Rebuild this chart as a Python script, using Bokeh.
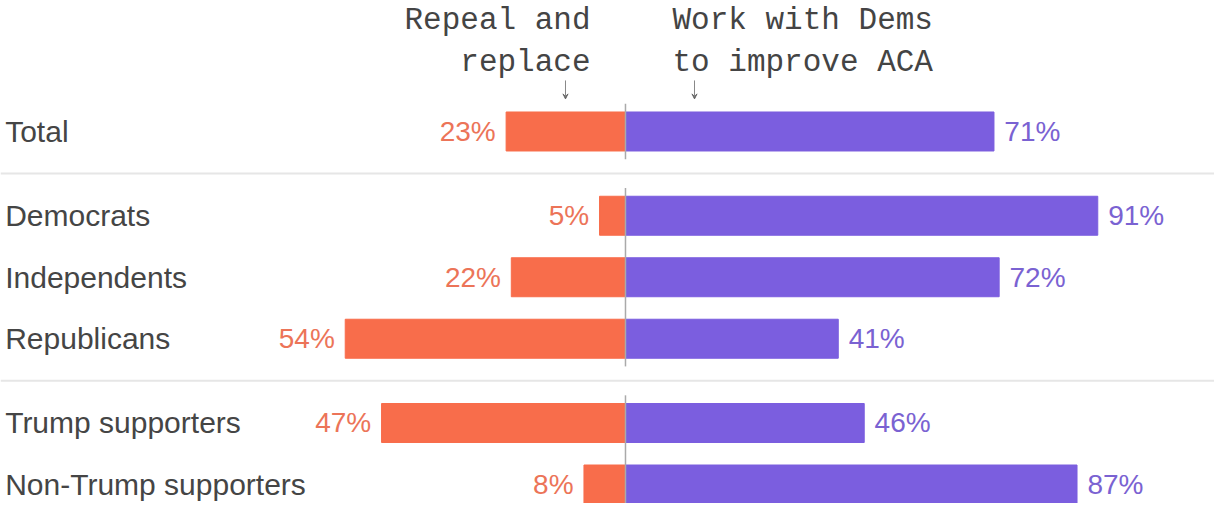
from bokeh.plotting import figure
from bokeh.models import Range1d, ColumnDataSource, Arrow, VeeHead
from bokeh.core.properties import value
from bokeh.embed import file_html
from bokeh.resources import INLINE

categories = ["Total", "Democrats", "Independents", "Republicans",
              "Trump supporters", "Non-Trump supporters"]
groups = [0, 1, 1, 1, 2, 2]
repeal = [23, 5, 22, 54, 47, 8]
work = [71, 91, 72, 41, 46, 87]
left_header = ["Repeal and", "replace"]
right_header = ["Work with Dems", "to improve ACA"]

ORANGE = "#F86D4B"
PURPLE = "#7B5EDF"
ORANGE_T = "#EC7458"
PURPLE_T = "#7A62D2"
GAP = 0.37
H = 0.634

# row positions: one unit per row plus a gap between groups
ys = []
for i, g in enumerate(groups):
    ys.append(i + g * GAP)

W, HT = 1214, 503
x0, x1 = -120.42, 113.49
y_top, y_bot = -2.130, 6.049

p = figure(width=W, height=HT, output_backend="svg", toolbar_location=None,
           x_range=Range1d(x0, x1), y_range=Range1d(y_bot, y_top),
           min_border=0, outline_line_color=None)
p.axis.visible = False
p.grid.visible = False

src = ColumnDataSource(dict(
    y=ys, cat=categories,
    rl=[-v for v in repeal], rr=[0] * len(repeal),
    wl=[0] * len(work), wr=work,
    rlab=[f"{v}%" for v in repeal], wlab=[f"{v}%" for v in work],
    rx=[-v - 2.0 for v in repeal], wx=[v + 2.0 for v in work],
))

p.hbar(y="y", left="rl", right="rr", height=H, color=ORANGE, source=src)
p.hbar(y="y", left="wl", right="wr", height=H, color=PURPLE, source=src)

# group separators and center lines
ngroups = max(groups) + 1
for g in range(ngroups):
    idx = [i for i, gg in enumerate(groups) if gg == g]
    top = ys[idx[0]] - 0.45
    bot = ys[idx[-1]] + 0.45 if g < ngroups - 1 else y_bot + 0.2
    p.segment(x0=[0], x1=[0], y0=[top], y1=[bot], line_color="#aaaaaa", line_width=1.5)
    if g < ngroups - 1:
        ysep = ys[idx[-1]] + (1 + GAP) / 2
        p.segment(x0=[x0], x1=[x1 + 5], y0=[ysep], y1=[ysep],
                  line_color="#e6e6e6", line_width=2)

p.text(x=x0 + 0.9, y="y", text="cat", source=src, text_font=value("Liberation Sans"),
       text_font_size="30px", text_color="#454545", text_baseline="middle",
       text_align="left")
p.text(x="rx", y="y", text="rlab", source=src, text_font=value("Liberation Sans"),
       text_font_size="28px", text_color=ORANGE_T, text_baseline="middle",
       text_align="right")
p.text(x="wx", y="y", text="wlab", source=src, text_font=value("Liberation Sans"),
       text_font_size="28px", text_color=PURPLE_T, text_baseline="middle",
       text_align="left")

# headers
hy = [ys[0] - 1.805, ys[0] - 1.122]
p.text(x=[-6.74] * 2, y=hy, text=left_header, text_font=value("Liberation Mono"),
       text_font_size="31px", text_color="#444444", text_baseline="middle",
       text_align="right")
p.text(x=[9.06] * 2, y=hy, text=right_header, text_font=value("Liberation Mono"),
       text_font_size="31px", text_color="#444444", text_baseline="middle",
       text_align="left")

for ax in (-11.56, 13.3):
    p.add_layout(Arrow(end=VeeHead(size=5, line_color="#666666", fill_color="#666666",
                                   line_width=1),
                       x_start=ax, y_start=ys[0] - 0.83, x_end=ax, y_end=ys[0] - 0.53,
                       line_color="#888888", line_width=1))

open("out.html", "w").write(file_html(p, INLINE))
